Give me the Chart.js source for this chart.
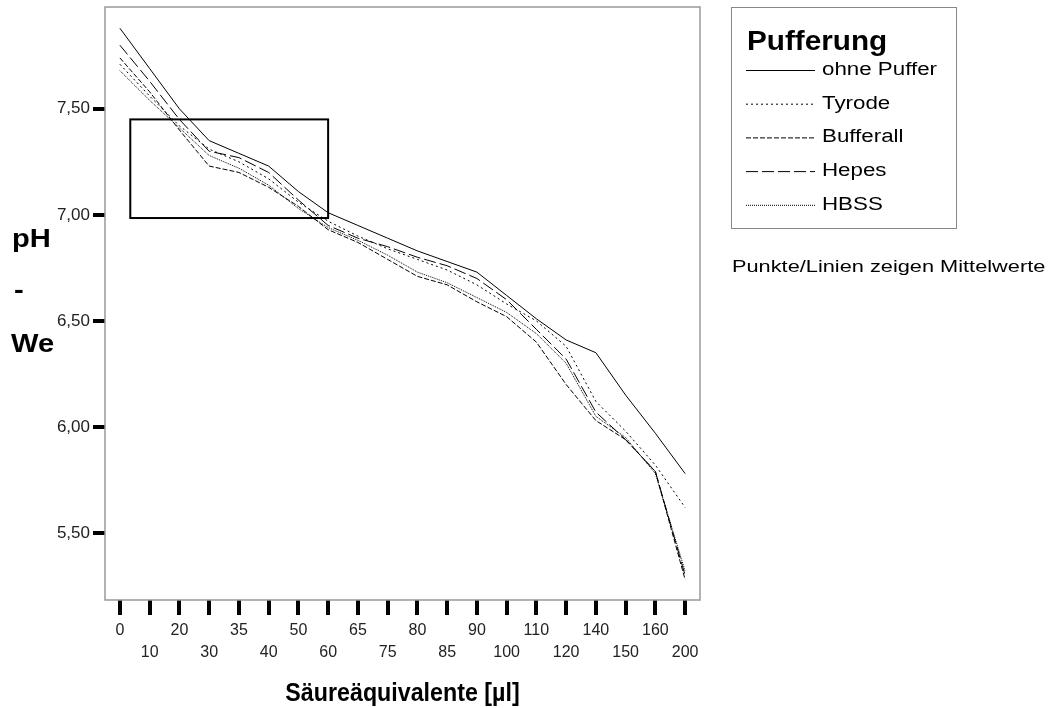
<!DOCTYPE html>
<html>
<head>
<meta charset="utf-8">
<script src="https://cdn.jsdelivr.net/npm/chart.js@4.4.1/dist/chart.umd.min.js"></script>
<style>
  body { margin: 0; background: #fff; }
  canvas { display: block; }
</style>
</head>
<body>
<canvas id="myChart" width="1053" height="708"></canvas>
<script>
// x categories: acid equivalents in µl
const categories = ["0", "10", "20", "30", "35", "40", "50", "60", "65", "75",
  "80", "85", "90", "100", "110", "120", "140", "150", "160", "200"];

// mean pH per buffer
const ohnePuffer = [7.88, 7.69, 7.50, 7.35, 7.29, 7.23, 7.11, 7.01, 6.95, 6.89,
  6.83, 6.78, 6.73, 6.62, 6.51, 6.41, 6.35, 6.15, 5.97, 5.78];
const tyrode = [7.71, 7.56, 7.42, 7.31, 7.25, 7.17, 7.06, 6.97, 6.90, 6.84,
  6.79, 6.74, 6.67, 6.58, 6.50, 6.38, 6.12, 5.98, 5.82, 5.62];
const bufferall = [7.74, 7.58, 7.40, 7.23, 7.20, 7.13, 7.04, 6.93, 6.87, 6.79,
  6.71, 6.67, 6.59, 6.52, 6.40, 6.20, 6.03, 5.94, 5.79, 5.28];
const hepes = [7.80, 7.63, 7.45, 7.30, 7.27, 7.20, 7.07, 6.95, 6.89, 6.85,
  6.80, 6.76, 6.70, 6.60, 6.46, 6.32, 6.07, 5.94, 5.79, 5.30];
const hbss = [7.68, 7.54, 7.41, 7.28, 7.22, 7.14, 7.03, 6.94, 6.88, 6.81,
  6.73, 6.68, 6.61, 6.54, 6.44, 6.30, 6.05, 5.95, 5.78, 5.32];

const seriesNames = ["ohne Puffer", "Tyrode", "Bufferall", "Hepes", "HBSS"];
const yTicks = [5.5, 6.0, 6.5, 7.0, 7.5];

const dashes = [[], [2, 3], [5, 2], [12, 4], [1, 1]];
const font = "'Liberation Sans', Arial, sans-serif";

// highlighted region (category index / pH value)
const boxFrom = 0.35, boxTo = 7, boxTop = 7.45, boxBottom = 6.985;

// text drawn a bit wider, like the original export
function wideText(ctx, text, x, y, sx) {
  ctx.save();
  ctx.translate(x, y);
  ctx.scale(sx, 1);
  ctx.fillText(text, 0, 0);
  ctx.restore();
}

const decor = {
  id: "decor",
  afterDraw(chart) {
    const ctx = chart.ctx;
    const a = chart.chartArea;
    const x = chart.scales.x, y = chart.scales.y;
    ctx.save();
    // frame
    ctx.strokeStyle = "#999";
    ctx.lineWidth = 1.5;
    ctx.strokeRect(a.left, a.top, a.right - a.left, a.bottom - a.top);

    // marked region
    const x0 = x.getPixelForValue(0), x1 = x.getPixelForValue(1);
    ctx.strokeStyle = "#000";
    ctx.lineWidth = 2;
    const bl = x0 + boxFrom * (x1 - x0);
    const br = x.getPixelForValue(boxTo);
    const bt = y.getPixelForValue(boxTop);
    const bb = y.getPixelForValue(boxBottom);
    ctx.strokeRect(bl, bt, br - bl, bb - bt);

    // y title
    ctx.fillStyle = "#000";
    ctx.textBaseline = "alphabetic";
    ctx.textAlign = "left";
    ctx.font = "bold 26px " + font;
    wideText(ctx, "pH", 12, 247, 1.12);
    wideText(ctx, "-", 14, 298, 1.12);
    wideText(ctx, "We", 11, 352, 1.12);

    // x title
    ctx.textAlign = "center";
    ctx.font = "bold 25px " + font;
    wideText(ctx, "Säureäquivalente [µl]", (a.left + a.right) / 2, 701, 0.93);

    // legend
    ctx.strokeStyle = "#888";
    ctx.lineWidth = 1;
    ctx.strokeRect(731.5, 7.5, 225, 221);
    ctx.textAlign = "left";
    ctx.font = "bold 27px " + font;
    wideText(ctx, "Pufferung", 747, 50, 1.1);
    ctx.font = "18px " + font;
    ctx.textBaseline = "middle";
    seriesNames.forEach((name, i) => {
      const ly = 70 + i * 33.7;
      ctx.strokeStyle = "#000";
      ctx.lineWidth = 1;
      ctx.setLineDash(dashes[i]);
      ctx.beginPath();
      ctx.moveTo(746, ly + 0.5);
      ctx.lineTo(815, ly + 0.5);
      ctx.stroke();
      ctx.setLineDash([]);
      wideText(ctx, name, 822, ly, 1.24);
    });
    ctx.font = "17px " + font;
    wideText(ctx, "Punkte/Linien zeigen Mittelwerte", 732, 267, 1.28);
    ctx.restore();
  }
};

const ctx = document.getElementById("myChart").getContext("2d");
const seriesValues = [ohnePuffer, tyrode, bufferall, hepes, hbss];

const myChart = new Chart(ctx, {
  type: "line",
  data: {
    labels: categories,
    datasets: seriesNames.map((name, i) => ({
      label: name,
      data: seriesValues[i],
      borderColor: "#000",
      borderWidth: 1,
      borderDash: dashes[i],
      pointRadius: 0,
      fill: false,
      tension: 0,
    })),
  },
  options: {
    responsive: false,
    animation: false,
    layout: { padding: { top: 7, right: 353, left: 0, bottom: 0 } },
    plugins: { legend: { display: false }, tooltip: { enabled: false } },
    scales: {
      x: {
        type: "category",
        offset: true,
        grid: {
          offset: false,
          drawOnChartArea: false,
          color: "#000",
          lineWidth: 4,
          tickLength: 15,
        },
        border: { display: false },
        ticks: {
          autoSkip: false,
          maxRotation: 0,
          padding: 4,
          color: "#222",
          font: { family: font, size: 16, lineHeight: 1.4 },
          callback: function (value, index) {
            const lab = categories[index];
            return index % 2 === 0 ? [lab, ""] : ["", lab];
          },
        },
        afterFit: (scale) => {
          scale.height = 108;
          scale.paddingLeft = 0;
          scale.paddingRight = 0;
        },
      },
      y: {
        min: 5.184,
        max: 7.98,
        afterBuildTicks: (axis) => { axis.ticks = yTicks.map((v) => ({ value: v })); },
        grid: {
          drawOnChartArea: false,
          color: "#000",
          lineWidth: 4,
          tickLength: 12,
        },
        border: { display: false },
        ticks: {
          padding: 3,
          color: "#222",
          font: { family: font, size: 17 },
          callback: (v) => v.toFixed(2).replace(".", ","),
        },
        afterFit: (scale) => {
          scale.width = 105;
          scale.paddingTop = 0;
          scale.paddingBottom = 0;
        },
      },
    },
  },
  plugins: [decor],
});
</script>
</body>
</html>
